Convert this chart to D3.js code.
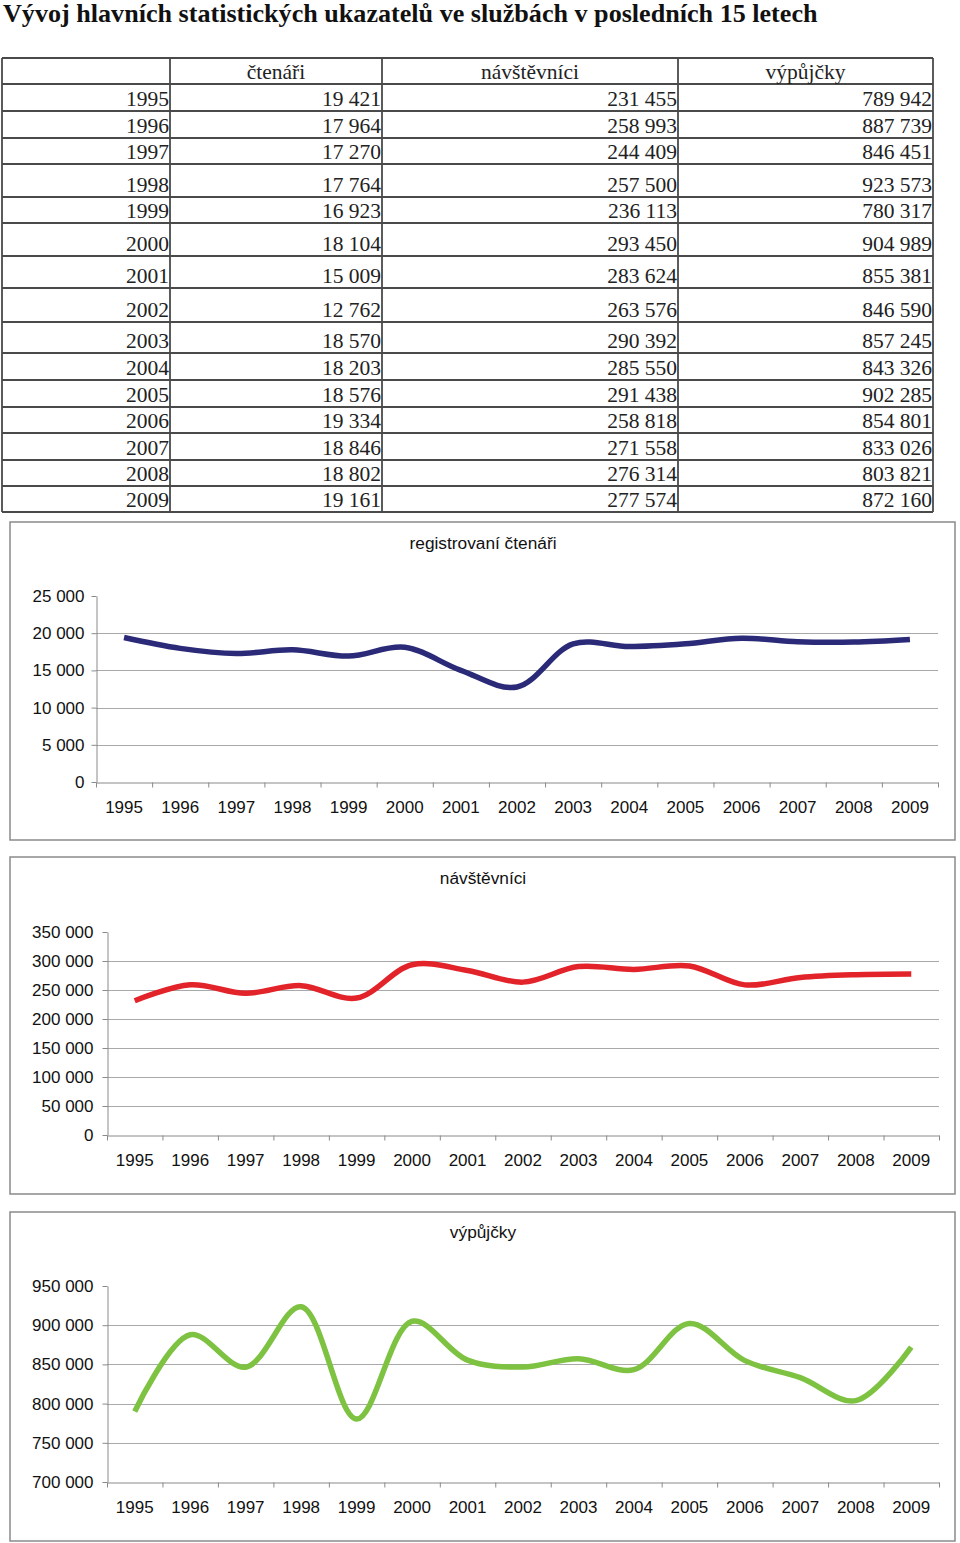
<!DOCTYPE html>
<html><head><meta charset="utf-8">
<script src="https://cdn.jsdelivr.net/npm/d3@7"></script>
<style>
html,body{margin:0;padding:0;background:#fff;}
svg{display:block;}
</style></head>
<body>
<svg id="c" width="960" height="1543"></svg>
<script>
// ---- data ----
const title = "Vývoj hlavních statistických ukazatelů ve službách v posledních 15 letech";
const years = ["1995","1996","1997","1998","1999","2000","2001","2002","2003","2004","2005","2006","2007","2008","2009"];
const readers  = [19421,17964,17270,17764,16923,18104,15009,12762,18570,18203,18576,19334,18846,18802,19161];
const visitors = [231455,258993,244409,257500,236113,293450,283624,263576,290392,285550,291438,258818,271558,276314,277574];
const loans    = [789942,887739,846451,923573,780317,904989,855381,846590,857245,843326,902285,854801,833026,803821,872160];
const columnHeaders = ["čtenáři","návštěvníci","výpůjčky"];
const chartTitles = ["registrovaní čtenáři","návštěvníci","výpůjčky"];
const yDomains = [[0,25000],[0,350000],[700000,950000]];
const yTickValues = [
  [0,5000,10000,15000,20000,25000],
  [0,50000,100000,150000,200000,250000,300000,350000],
  [700000,750000,800000,850000,900000,950000]
];

// ---- layout ----
const svg = d3.select("#c");
const loc = d3.formatLocale({decimal:",", thousands:" ", grouping:[3], currency:["",""]});
const fmt = loc.format(",");

// title
const t = svg.append("text").attr("x",3).attr("y",22)
  .attr("font-family","'Liberation Serif','Times New Roman',serif")
  .attr("font-weight","bold").attr("font-size",24).attr("fill","#111")
  .text(title);
const tl = t.node().getComputedTextLength();
t.attr("font-size", 24*815/tl);

// table
const colX = [2,170,382,678,933];
const rowY = [58,84,111,138,164,197,223,256,288,322,353,380,407,433,460,486,512];
const tg = svg.append("g");
const tableFont = "'Liberation Serif','Times New Roman',serif";
const lineColor = "#4a4a4a";
rowY.forEach(y=>{
  tg.append("line").attr("x1",colX[0]).attr("x2",colX[4]).attr("y1",y).attr("y2",y)
    .attr("stroke",lineColor).attr("stroke-width",1.8);
});
colX.forEach(x=>{
  tg.append("line").attr("x1",x).attr("x2",x).attr("y1",rowY[0]).attr("y2",rowY[rowY.length-1])
    .attr("stroke",lineColor).attr("stroke-width",1.8);
});
columnHeaders.forEach((h,i)=>{
  tg.append("text").attr("x",(colX[i+1]+colX[i+2])/2).attr("y",rowY[1]-5)
    .attr("text-anchor","middle").attr("font-family",tableFont).attr("font-size",21.5)
    .attr("fill","#222").text(h);
});
const series = [readers, visitors, loans];
years.forEach((yr,r)=>{
  const base = rowY[r+2]-5;
  tg.append("text").attr("x",colX[1]-1).attr("y",base).attr("text-anchor","end")
    .attr("font-family",tableFont).attr("font-size",21.5).attr("fill","#222").text(yr);
  series.forEach((s,c)=>{
    tg.append("text").attr("x",colX[c+2]-1).attr("y",base).attr("text-anchor","end")
      .attr("font-family",tableFont).attr("font-size",21.5).attr("fill","#222").text(fmt(s[r]));
  });
});

// charts
const charts = [
  {frame:{x:10,y:522,w:945,h:318}, plot:{l:96,r:938,t:596,b:782}, titleY:549, color:"#2a2a78", pad:7},
  {frame:{x:10,y:857,w:945,h:337}, plot:{l:107,r:939,t:932,b:1135}, titleY:884, color:"#e3232a", pad:9},
  {frame:{x:10,y:1212,w:945,h:329}, plot:{l:107,r:939,t:1286,b:1482}, titleY:1238, color:"#7ec242", pad:9}
];
const sans = "'Liberation Sans',Arial,sans-serif";
charts.forEach((ch,i)=>{
  const g = svg.append("g");
  g.append("rect").attr("x",ch.frame.x).attr("y",ch.frame.y).attr("width",ch.frame.w).attr("height",ch.frame.h)
    .attr("fill","#fff").attr("stroke","#8a8a8a").attr("stroke-width",1.5);
  g.append("text").attr("x",483).attr("y",ch.titleY).attr("text-anchor","middle")
    .attr("font-family",sans).attr("font-size",17.3).attr("fill","#111").text(chartTitles[i]);

  const p = ch.plot;
  const x = d3.scaleBand().domain(years).range([p.l,p.r]);
  const xb = d3.scaleLinear().domain([0,years.length]).range([p.l,p.r]);
  const y = d3.scaleLinear().domain(yDomains[i]).range([p.b,p.t]);

  // gridlines (not at top)
  g.append("g").selectAll("line").data(yTickValues[i].slice(1,-1)).join("line")
    .attr("x1",p.l).attr("x2",p.r).attr("y1",d=>Math.round(y(d))+0.5).attr("y2",d=>Math.round(y(d))+0.5)
    .attr("stroke","#a9a9a9").attr("stroke-width",1);

  // y axis
  const ya = g.append("g").attr("transform",`translate(${p.l+0.5},0)`)
    .call(d3.axisLeft(y).tickValues(yTickValues[i]).tickFormat(fmt).tickSize(5).tickPadding(ch.pad).tickSizeOuter(0));
  ya.select(".domain").attr("stroke","#8a8a8a");
  ya.selectAll(".tick line").attr("stroke","#8a8a8a");
  ya.selectAll("text").attr("font-family",sans).attr("font-size",17).attr("fill","#111");

  // x axis boundary ticks
  const xt = g.append("g").attr("transform",`translate(0,${Math.round(p.b)+0.5})`)
    .call(d3.axisBottom(xb).tickValues(d3.range(years.length+1)).tickFormat("").tickSize(5).tickSizeOuter(0));
  xt.select(".domain").attr("stroke","#8a8a8a");
  xt.selectAll(".tick line").attr("stroke","#8a8a8a");
  // x labels
  const xl = g.append("g").attr("transform",`translate(0,${p.b})`)
    .call(d3.axisBottom(x).tickSize(0).tickPadding(19));
  xl.select(".domain").remove();
  xl.selectAll("text").attr("font-family",sans).attr("font-size",17).attr("fill","#111");

  const line = d3.line().x((d,j)=>x(years[j])+x.bandwidth()/2).y(d=>y(d))
    .curve(d3.curveCatmullRom.alpha(0.5));
  g.append("path").datum(series[i]).attr("d",line).attr("fill","none")
    .attr("stroke",ch.color).attr("stroke-width",5.5).attr("stroke-linecap","butt").attr("stroke-linejoin","round");
});
</script>
</body></html>
